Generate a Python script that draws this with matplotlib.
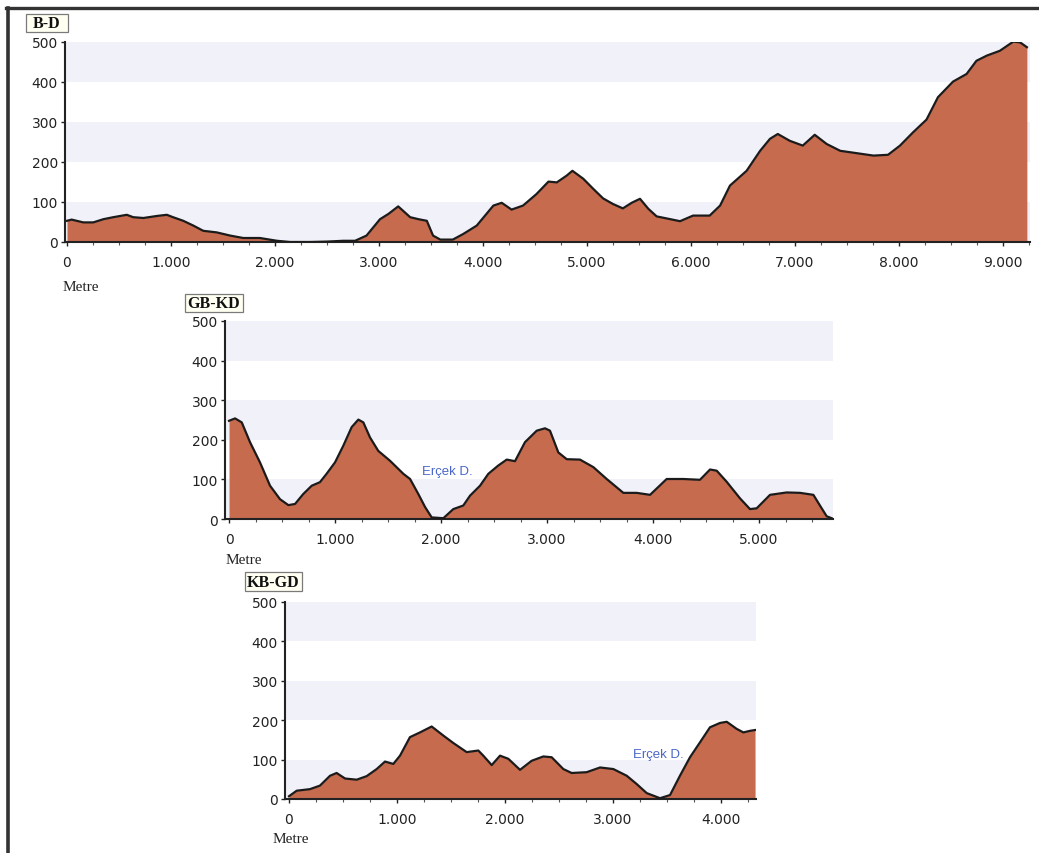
import numpy as np
import matplotlib
matplotlib.use("Agg")
import matplotlib.pyplot as plt
from matplotlib.lines import Line2D
from matplotlib.patches import Rectangle

### Profile data (distance in m, elevation in m)

bd_dist = [0, 45, 157, 253, 350, 445, 575, 637, 734, 863, 960, 1020, 1118, 1215, 1310,
           1440, 1570, 1695, 1855, 2020, 2145, 2340, 2500, 2655, 2770, 2880, 3010, 3090,
           3185, 3300, 3380, 3460, 3520, 3590, 3710, 3810, 3940, 4020, 4100, 4180, 4275,
           4385, 4515, 4630, 4710, 4805, 4860, 4965, 5060, 5155, 5250, 5345, 5430, 5510,
           5590, 5670, 5765, 5895, 6020, 6180, 6280, 6375, 6535, 6665, 6760, 6835, 6950,
           7075, 7190, 7305, 7435, 7595, 7755, 7895, 8010, 8135, 8265, 8375, 8520, 8650,
           8745, 8845, 8970, 9100, 9165, 9230]
bd_elev = [53, 56, 49, 49, 57, 62, 68, 62, 60, 65, 68, 62, 53, 41, 28,
           24, 16, 10, 10, 3, 0, 0, 1, 3, 3, 16, 57, 70,
           89, 62, 57, 53, 16, 6, 6, 20, 41, 66, 91, 98, 81,
           91, 120, 151, 149, 166, 178, 158, 133, 109, 95, 84, 98, 108,
           83, 64, 59, 52, 66, 66, 91, 141, 178, 228, 258, 270, 253,
           241, 268, 245, 228, 222, 216, 218, 241, 274, 306, 362, 401, 420,
           453, 466, 478, 501, 499, 487]

gbkd_dist = [0, 57, 120, 198, 292, 387, 481, 560, 623, 700, 780, 858, 920, 1000, 1078,
             1157, 1220, 1267, 1330, 1408, 1519, 1645, 1708, 1786, 1850, 1912, 2022,
             2116, 2210, 2274, 2368, 2446, 2540, 2620, 2698, 2792, 2903, 2981, 3028,
             3107, 3186, 3311, 3437, 3563, 3720, 3846, 3972, 4129, 4286, 4443, 4538,
             4601, 4695, 4821, 4915, 4978, 5104, 5261, 5387, 5513, 5575, 5638, 5685]
gbkd_elev = [248, 254, 244, 194, 143, 84, 50, 35, 38, 63, 84, 93, 114, 143, 185,
             232, 251, 244, 206, 172, 147, 114, 101, 63, 30, 4, 2,
             25, 34, 59, 84, 114, 135, 150, 146, 194, 223, 229, 223,
             168, 151, 150, 131, 101, 66, 66, 61, 101, 101, 99, 125,
             122, 94, 52, 25, 27, 61, 67, 66, 61, 34, 7, 2]

kbgd_dist = [0, 71, 194, 287, 380, 441, 519, 627, 719, 812, 889, 966, 1028, 1120,
             1213, 1321, 1429, 1522, 1645, 1753, 1799, 1877, 1954, 2031, 2139, 2247,
             2355, 2432, 2540, 2617, 2756, 2880, 3003, 3127, 3219, 3312, 3435, 3528,
             3620, 3713, 3806, 3898, 3991, 4053, 4145, 4207, 4269, 4315]
kbgd_elev = [7, 21, 25, 34, 59, 66, 52, 49, 58, 76, 95, 89, 110, 157,
             169, 184, 161, 142, 119, 123, 110, 86, 110, 102, 74, 97,
             108, 106, 76, 66, 68, 80, 76, 59, 38, 15, 2, 10,
             59, 106, 144, 182, 193, 196, 178, 169, 173, 175]

# axis ticks
y_ticks = [0, 100, 200, 300, 400, 500]
bd_xticks = [0, 1000, 2000, 3000, 4000, 5000, 6000, 7000, 8000, 9000]
gbkd_xticks = [0, 1000, 2000, 3000, 4000, 5000]
kbgd_xticks = [0, 1000, 2000, 3000, 4000]

### Figure
W, H = 1039, 854
fig = plt.figure(figsize=(W / 100, H / 100), dpi=100)
fig.patch.set_facecolor('white')

fill_col = '#C76B4E'
band_col = '#F1F1F9'


def px_axes(left, right, top, bottom):
    return fig.add_axes([left / W, 1 - bottom / H, (right - left) / W, (bottom - top) / H])


def fmt(v):
    return f"{v:,}".replace(',', '.')


def title_box(text, x0, y0, x1, y1):
    # label box drawn in pixel coords of the figure
    fig.add_artist(Rectangle((x0 / W, 1 - y1 / H), (x1 - x0) / W, (y1 - y0) / H,
                             transform=fig.transFigure, facecolor='#FFFFF2',
                             edgecolor='#7a7a7a', lw=0.9))
    fig.text((x0 + x1) / 2 / W, 1 - ((y0 + y1) / 2 + 0.5) / H, text, ha='center', va='center',
             fontsize=11.5, fontweight='bold', family='Liberation Serif', color='#111111')


def draw_profile(ax, dist, elev, xlim, xticks, title, box, metre_xy):
    for lo in (0, 200, 400):
        ax.axhspan(lo, lo + 100, color=band_col, zorder=0, lw=0)
    ax.fill_between(dist, elev, 0, color=fill_col, lw=0, zorder=2)
    ax.plot(dist, elev, color='#1b1b1b', lw=1.6, zorder=3)
    ax.set_xlim(*xlim)
    ax.set_ylim(0, 500)
    for s in ('top', 'right'):
        ax.spines[s].set_visible(False)
    for s in ('left', 'bottom'):
        ax.spines[s].set_linewidth(1.5)
        ax.spines[s].set_color('#222222')
    ax.set_yticks(y_ticks)
    ax.set_xticks(xticks)
    ax.set_xticklabels([fmt(v) for v in xticks])
    ax.set_xticks(np.arange(0, xlim[1], 250), minor=True)
    ax.tick_params(axis='both', labelsize=10, colors='#222222', width=1, length=3)
    ax.tick_params(axis='x', pad=6.5)
    ax.tick_params(axis='y', pad=2)
    ax.tick_params(axis='x', which='minor', length=2.5, width=0.8, color='#555555')
    for lab in ax.get_xticklabels() + ax.get_yticklabels():
        lab.set_fontfamily('DejaVu Sans')
    title_box(title, *box)
    fig.text(metre_xy[0] / W, 1 - metre_xy[1] / H, 'Metre', ha='left', va='center',
             fontsize=11, family='Liberation Serif', color='#222222')


ax1 = px_axes(65, 1030, 43, 243)
draw_profile(ax1, bd_dist, bd_elev, (-19, 9260), bd_xticks, 'B-D', (26, 15, 68, 33), (63, 288))

ax2 = px_axes(225, 833, 322, 520)
draw_profile(ax2, gbkd_dist, gbkd_elev, (-38, 5698), gbkd_xticks, 'GB-KD', (185, 295, 243, 313), (226, 561))
ax2.text(1820, 121, 'Erçek D.', color='#4A67C8', fontsize=9.5, family='Liberation Sans',
         ha='left', va='center', zorder=4)

ax3 = px_axes(285, 756, 603, 800)
draw_profile(ax3, kbgd_dist, kbgd_elev, (-37, 4324), kbgd_xticks, 'KB-GD', (245, 573, 302, 592), (273, 840))
ax3.text(3185, 114, 'Erçek D.', color='#4A67C8', fontsize=9.5, family='Liberation Sans',
         ha='left', va='center', zorder=4)

# outer frame (top and left)
fig.add_artist(Line2D([6 / W, 1], [1 - 9 / H, 1 - 9 / H], color='#333333', lw=2.4))
fig.add_artist(Line2D([8 / W, 8 / W], [0, 1 - 9 / H], color='#333333', lw=2.6))

fig.savefig('out.png', dpi=100)
